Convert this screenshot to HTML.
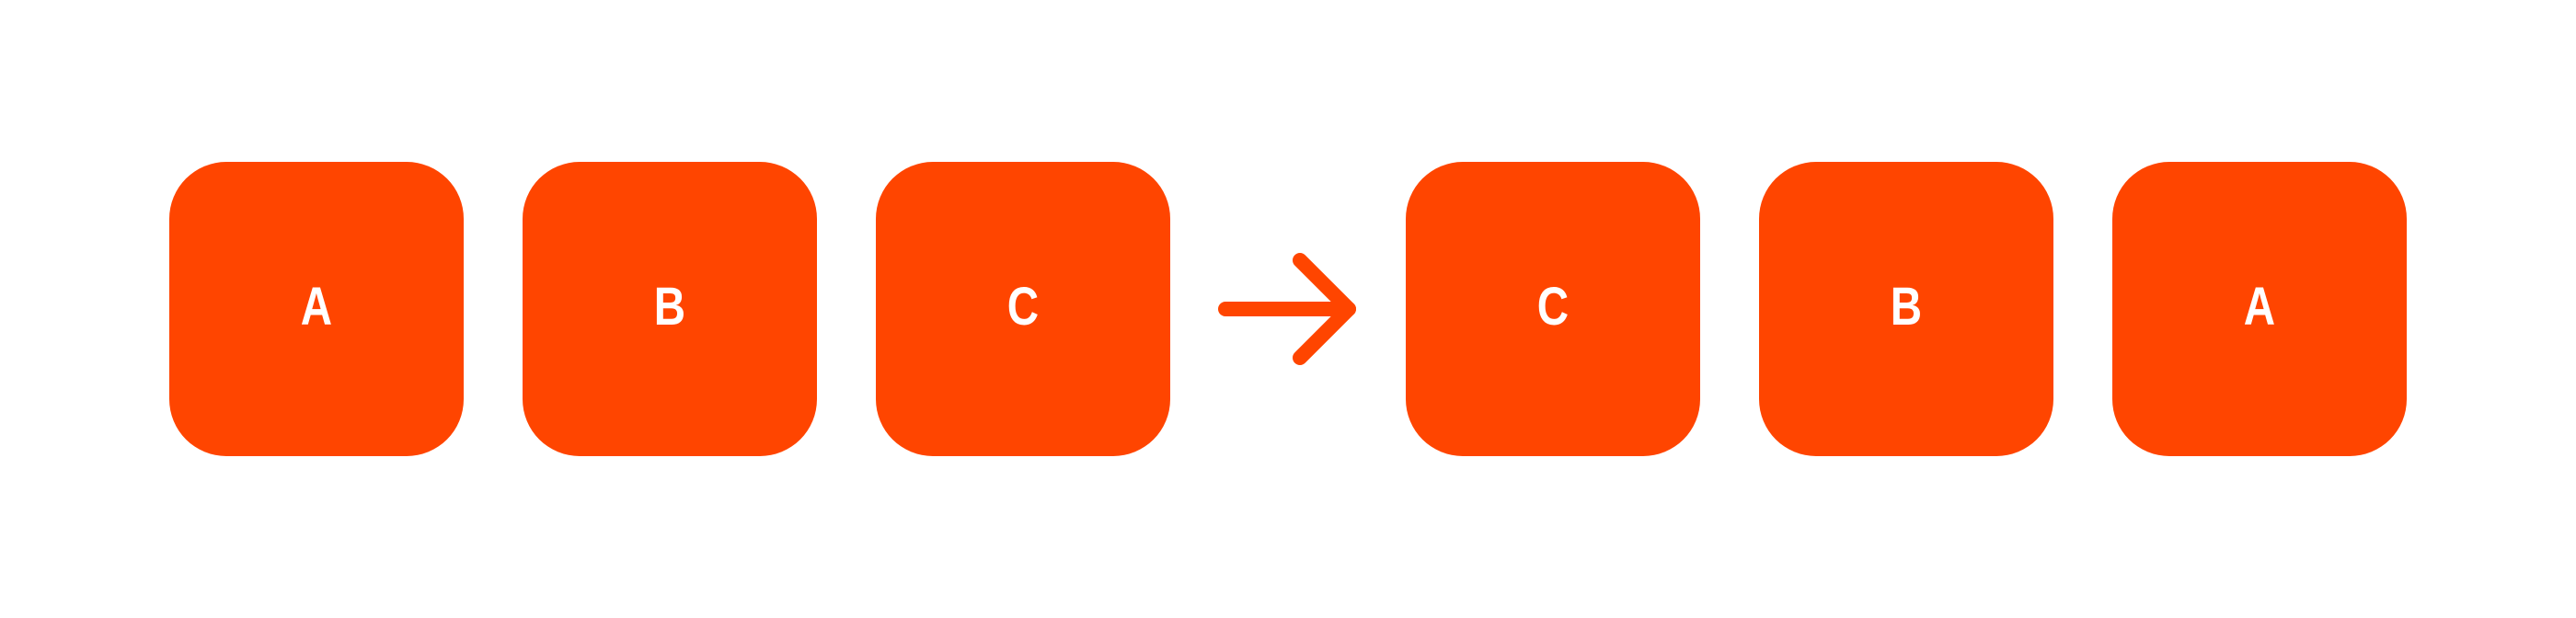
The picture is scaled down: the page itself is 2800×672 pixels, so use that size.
<!DOCTYPE html>
<html><head><meta charset="utf-8"><style>
html,body{margin:0;padding:0;background:#fff;}
#c{position:relative;width:2800px;height:672px;overflow:hidden;background:#fff;}
.box{position:absolute;top:176px;width:320px;height:320px;border-radius:62px;background:#ff4500;display:flex;align-items:center;justify-content:center;}
.box span{color:#fff;font-family:"Liberation Sans",sans-serif;font-weight:bold;font-size:58px;transform:scaleX(0.82);display:block;line-height:1;margin-top:-4px;}
</style></head><body>
<div id="c">
<div class="box" style="left:184px"><span>A</span></div>
<div class="box" style="left:568px"><span>B</span></div>
<div class="box" style="left:952px"><span>C</span></div>
<svg style="position:absolute;left:0;top:0" width="2800" height="672">
<g stroke="#ff4500" stroke-width="16" stroke-linecap="round" stroke-linejoin="round" fill="none">
<line x1="1332" y1="336" x2="1466" y2="336"/>
<polyline points="1413,283 1466,336 1413,389"/>
</g></svg>
<div class="box" style="left:1528px"><span>C</span></div>
<div class="box" style="left:1912px"><span>B</span></div>
<div class="box" style="left:2296px"><span>A</span></div>
</div>
</body></html>
